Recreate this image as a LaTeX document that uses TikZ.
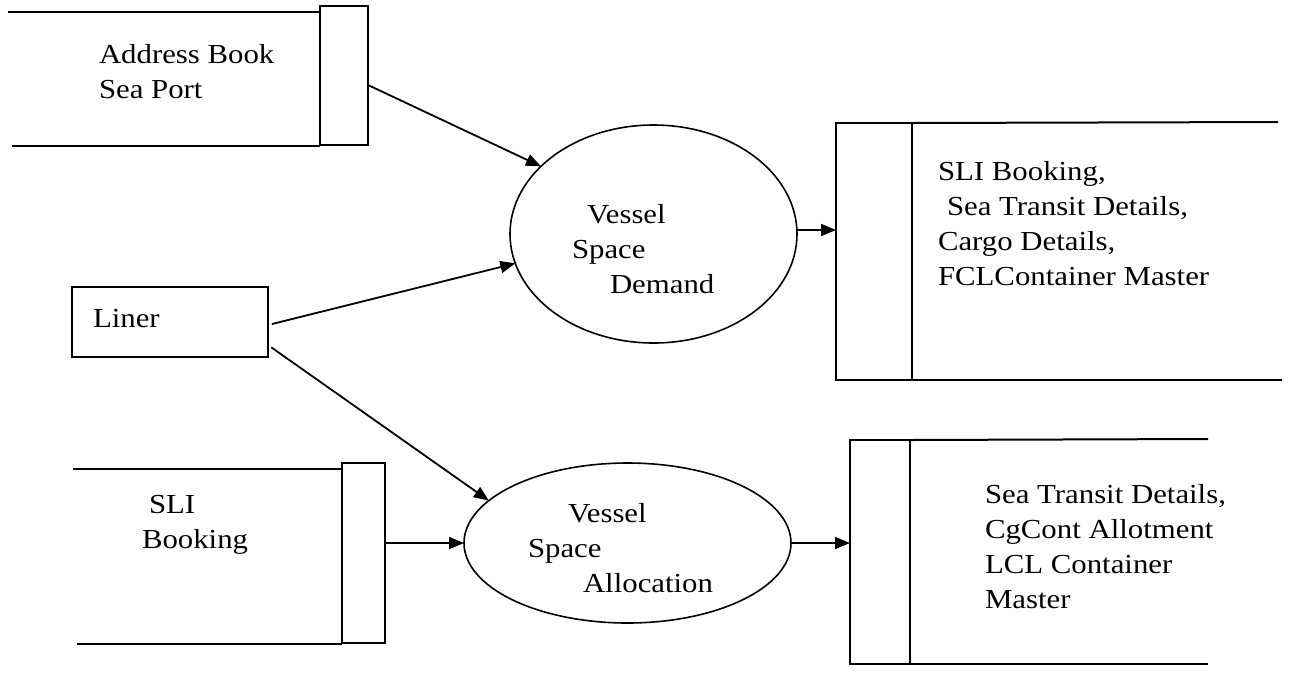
\documentclass[tikz,border=0pt]{standalone}
\usepackage{fontspec}
\setmainfont{Liberation Serif}[FakeStretch=1.12]
\usetikzlibrary{arrows.meta,shapes.geometric}

\newcommand{\lines}[1]{\begin{tabular}[t]{@{}l@{}}#1\end{tabular}}

\begin{document}
\begin{tikzpicture}[x=0.5pt,y=-0.5pt,
  box/.style={draw,line width=1pt,rectangle,inner sep=0pt,outer sep=0pt},
  proc/.style={draw,line width=0.8pt,ellipse,inner sep=0pt,outer sep=0pt},
  edge/.style={line width=1pt},
  flow/.style={line width=0.9pt,-{Triangle[length=7.5pt,width=6pt]}},
  lbl/.style={anchor=base west,inner sep=0pt,outer sep=0pt,
              font=\fontsize{13.75}{17.5}\selectfont}]

\useasboundingbox (0,0) rectangle (1290,676);

% ---- data store: Address Book / Sea Port
\node[box,minimum width=24pt,minimum height=69.5pt] (tabA) at (344,75.5) {};
\draw[edge] (8,12) -- (tabA.west |- 0,12);
\draw[edge] (12,146) -- (tabA.west |- 0,146);
\node[lbl] (tA) at (99,63) {\lines{Address Book\\Sea Port}};

% ---- external entity: Liner
\node[box,minimum width=98pt,minimum height=35pt] (liner) at (170,322) {};
\node[lbl] (tL) at (93,327) {Liner};

% ---- data store: SLI Booking
\node[box,minimum width=21.5pt,minimum height=90pt] (tabB) at (363.5,553) {};
\draw[edge] (73,469) -- (tabB.west |- 0,469);
\draw[edge] (77,644) -- (tabB.west |- 0,644);
\node[lbl] (tB) at (142,513) {\lines{\hspace*{3.5pt}SLI\\Booking}};

% ---- processes
\node[proc,minimum width=143.5pt,minimum height=109pt] (vsd) at (653.5,234) {};
\node[lbl] (tVSD) at (572,223) {\lines{\hspace*{7.5pt}Vessel\\Space\\\hspace*{19pt}Demand}};

\node[proc,minimum width=163.5pt,minimum height=80pt] (vsa) at (627.5,543) {};
\node[lbl] (tVSA) at (528,522) {\lines{\hspace*{20pt}Vessel\\Space\\\hspace*{27.5pt}Allocation}};

% ---- output store: booking details
\node[box,minimum width=38pt,minimum height=128.5pt] (tabC) at (874,251.5) {};
\draw[edge] (tabC.north east) -- (1278,122);
\draw[edge] (tabC.south east) -- (1282,380);
\node[lbl] (tC) at (938,180) {\lines{SLI Booking,\\\hspace*{4.5pt}Sea Transit Details,\\Cargo Details,\\FCLContainer Master}};

% ---- output store: allotment details
\node[box,minimum width=30pt,minimum height=112pt] (tabD) at (880,552) {};
\draw[edge] (tabD.north east) -- (1208,439);
\draw[edge] (tabD.south east) -- (1208,664);
\node[lbl] (tD) at (985,503) {\lines{Sea Transit Details,\\CgCont Allotment\\LCL Container\\Master}};

% ---- data flows
\draw[flow] (tabA.east |- 0,85) -- (vsd.149);
\draw[flow,shorten <=2pt] (liner.east |- 0,325) -- (vsd.192);
\draw[flow,shorten <=2pt] (liner.east |- 0,345) -- (vsa.163);
\draw[flow] (tabB.east |- vsa.west) -- (vsa.west);
\draw[flow] (vsd.east |- 0,230) -- (tabC.west |- 0,230);
\draw[flow] (vsa.east) -- (tabD.west |- vsa.east);
\end{tikzpicture}
\end{document}
